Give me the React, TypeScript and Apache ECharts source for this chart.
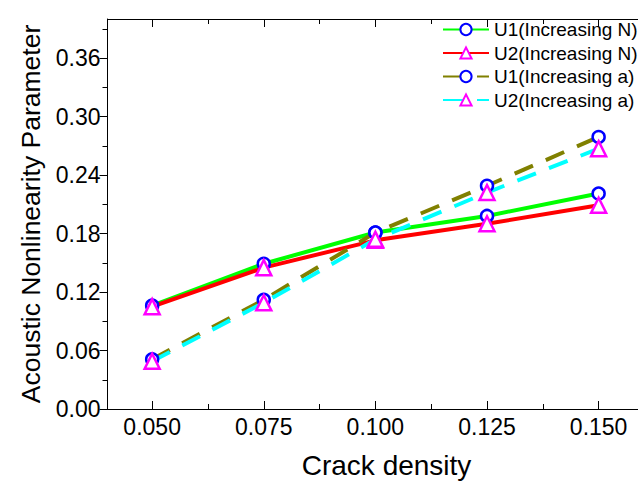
import React, { useEffect, useRef } from "react";
import * as echarts from "echarts";

const crackDensity = [0.05, 0.075, 0.1, 0.125, 0.15];
const u1IncreasingN = [0.106, 0.149, 0.181, 0.198, 0.221];
const u2IncreasingN = [0.105, 0.145, 0.173, 0.19, 0.209];
const u1IncreasingA = [0.051, 0.112, 0.181, 0.229, 0.279];
const u2IncreasingA = [0.049, 0.109, 0.174, 0.222, 0.267];

const seriesNames = ["U1(Increasing N)", "U2(Increasing N)", "U1(Increasing a)", "U2(Increasing a)"];

const xTickValues = [0.05, 0.075, 0.1, 0.125, 0.15];
const xMinorTickValues = [0.0625, 0.0875, 0.1125, 0.1375, 0.1625];
const yTickValues = [0, 0.06, 0.12, 0.18, 0.24, 0.3, 0.36];
const yMinorTickValues = [0.03, 0.09, 0.15, 0.21, 0.27, 0.33, 0.39];

const FONT = "'Liberation Sans', Arial, sans-serif";
const CHART_W = 700;

export default function App() {
  const ref = useRef<HTMLDivElement>(null);
  useEffect(() => {
    if (!ref.current) return;
    const chart = echarts.init(ref.current, null, { renderer: "svg" });
    const pair = (ys: number[]) => crackDensity.map((x, i) => [x, ys[i]]);
    const xBase = { type: "value", min: 0.04, max: 0.165, splitLine: { show: false } };
    const yBase = { type: "value", min: 0, max: 0.4, splitLine: { show: false } };
    const black = { color: "#000", width: 1 };
    const circleStyle = { color: "#fff", borderColor: "#0000ff", borderWidth: 2.5 };
    const triStyle = { color: "#fff", borderColor: "#ff00ff", borderWidth: 2.5 };
    chart.setOption({
      animation: false,
      backgroundColor: "#fff",
      grid: { left: 107.5, top: 19, bottom: 73, right: CHART_W - 665.6, containLabel: false },
      legend: {
        orient: "vertical",
        left: 442,
        top: 20,
        padding: 0,
        itemWidth: 46,
        itemHeight: 14,
        itemGap: 4.5,
        textStyle: { fontSize: 19, fontFamily: FONT, color: "#000", lineHeight: 19 },
        data: seriesNames,
      },
      xAxis: [
        {
          ...xBase,
          position: "bottom",
          name: "Crack density",
          nameLocation: "middle",
          nameGap: 42,
          nameTextStyle: { fontSize: 28, fontFamily: FONT, color: "#000" },
          axisLine: { show: true, onZero: false, lineStyle: black },
          axisTick: { show: true, inside: true, length: 8, customValues: xTickValues, lineStyle: black },
          axisLabel: {
            customValues: xTickValues,
            formatter: (v: number) => v.toFixed(3),
            fontSize: 23,
            fontFamily: FONT,
            color: "#000",
            margin: 6,
          },
        },
        {
          ...xBase,
          position: "bottom",
          axisLine: { show: false, onZero: false },
          axisTick: { show: true, inside: true, length: 5, customValues: xMinorTickValues, lineStyle: black },
          axisLabel: { show: false },
        },
        {
          ...xBase,
          position: "top",
          axisLine: { show: true, onZero: false, lineStyle: black },
          axisTick: { show: true, inside: true, length: 8, customValues: xTickValues, lineStyle: black },
          axisLabel: { show: false },
        },
        {
          ...xBase,
          position: "top",
          axisLine: { show: false, onZero: false },
          axisTick: { show: true, inside: true, length: 5, customValues: xMinorTickValues, lineStyle: black },
          axisLabel: { show: false },
        },
      ],
      yAxis: [
        {
          ...yBase,
          position: "left",
          name: "Acoustic Nonlinearity Parameter",
          nameLocation: "middle",
          nameGap: 62,
          nameTextStyle: { fontSize: 26.5, fontFamily: FONT, color: "#000" },
          axisLine: { show: true, onZero: false, lineStyle: black },
          axisTick: { show: true, inside: false, length: 8, customValues: yTickValues, lineStyle: black },
          axisLabel: {
            customValues: yTickValues,
            formatter: (v: number) => v.toFixed(2),
            fontSize: 23,
            fontFamily: FONT,
            color: "#000",
            margin: 7,
          },
        },
        {
          ...yBase,
          position: "left",
          axisLine: { show: false, onZero: false },
          axisTick: { show: true, inside: false, length: 5, customValues: yMinorTickValues, lineStyle: black },
          axisLabel: { show: false },
        },
      ],
      series: [
        {
          name: seriesNames[0],
          type: "line",
          data: pair(u1IncreasingN),
          symbol: "circle",
          symbolSize: 12,
          lineStyle: { color: "#00ff00", width: 4 },
          itemStyle: circleStyle,
          color: "#00ff00",
        },
        {
          name: seriesNames[1],
          type: "line",
          data: pair(u2IncreasingN),
          symbol: "triangle",
          symbolSize: 15,
          lineStyle: { color: "#ff0000", width: 4 },
          itemStyle: triStyle,
          color: "#ff0000",
        },
        {
          name: seriesNames[2],
          type: "line",
          data: pair(u1IncreasingA),
          symbol: "circle",
          symbolSize: 12,
          lineStyle: { color: "#808000", width: 4, type: [20, 14] },
          itemStyle: circleStyle,
          color: "#808000",
        },
        {
          name: seriesNames[3],
          type: "line",
          data: pair(u2IncreasingA),
          symbol: "triangle",
          symbolSize: 15,
          lineStyle: { color: "#00ffff", width: 4, type: [20, 14] },
          itemStyle: triStyle,
          color: "#00ffff",
        },
      ],
    });
    return () => chart.dispose();
  }, []);
  return (
    <div
      style={{ position: "fixed", left: 0, top: 0, width: 638, height: 484, overflow: "hidden", background: "#fff" }}
    >
      <div ref={ref} style={{ width: CHART_W, height: 484 }} />
    </div>
  );
}
